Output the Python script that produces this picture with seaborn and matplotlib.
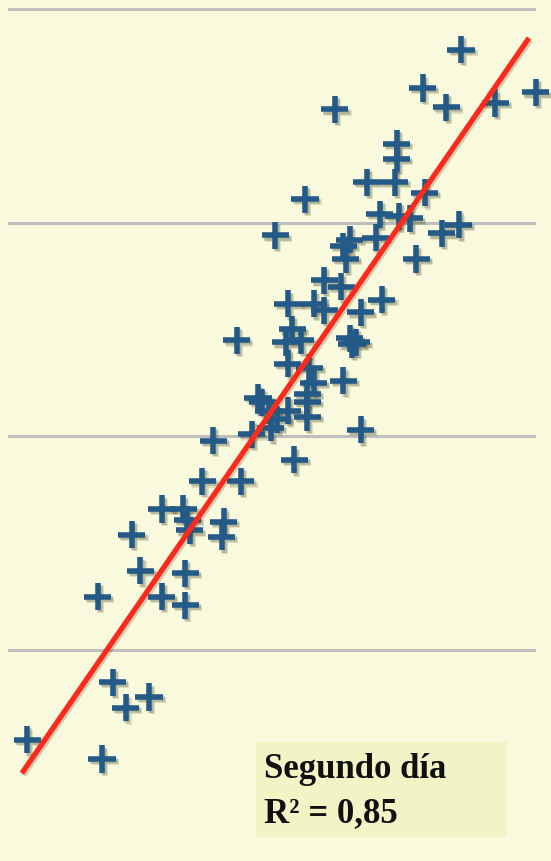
import matplotlib
matplotlib.use("Agg")
import matplotlib.pyplot as plt
import matplotlib.patheffects as pe
from matplotlib.patches import Rectangle
import seaborn as sns
import pandas as pd

# Observations for the second day (arbitrary units)
x_vals = [21.2, 19.4, 20.5, 22.8, 24.7, 15.3, 18.2, 18.2, 16.8, 18.1,
          19.5, 13.9, 17.4, 18.3, 18.8, 12.5, 20.3, 21.1, 17.2, 16.0,
          15.7, 15.8, 19.1, 14.8, 15.6, 13.1, 14.3, 17.5, 14.8, 16.5,
          10.7, 13.3, 13.7, 13.0, 16.0, 16.3, 16.1, 13.1, 14.1, 15.7,
          14.3, 14.0, 11.7, 11.9, 13.1, 14.0, 14.0, 12.6, 12.3, 11.4,
          16.5, 9.6, 13.4, 9.1, 10.9, 7.2, 8.2, 8.4, 8.5, 10.1,
          10.0, 5.8, 6.2, 8.3, 4.2, 7.2, 8.3, 4.9, 5.5, 6.6,
          0.9, 4.4, 12.2]
y_vals = [38.1, 36.3, 35.4, 35.6, 36.1, 35.3, 33.7, 33.0, 31.9, 31.9,
          31.4, 31.1, 30.4, 30.3, 30.2, 29.4, 29.5, 29.9, 29.3, 29.2,
          28.9, 28.3, 28.3, 27.3, 27.0, 26.2, 26.2, 26.4, 25.9, 25.8,
          24.5, 25.0, 24.5, 24.4, 24.6, 24.4, 24.3, 23.4, 23.2, 22.6,
          22.5, 22.0, 21.8, 21.6, 21.2, 21.6, 20.9, 20.8, 20.4, 20.1,
          20.3, 19.8, 18.9, 17.9, 17.9, 16.6, 16.6, 16.1, 15.6, 16.0,
          15.3, 15.4, 13.7, 13.6, 12.5, 12.5, 12.1, 8.5, 7.3, 7.8,
          5.8, 4.9, 21.2]

# Fitted trend line and its coefficient of determination
fit_slope = 1.450
fit_intercept = 3.294
fit_x_range = [0.65, 24.38]
r_squared = "0,85"
title = "Segundo día"
grid_levels = [10, 20, 30, 40]

df = pd.DataFrame({"x": x_vals, "y": y_vals})

bg = "#f9f9dd"
sns.set_theme(style="white")
plt.rcParams["font.family"] = ["Liberation Serif", "DejaVu Serif"]

W, H = 551, 861
fig = plt.figure(figsize=(W / 100, H / 100), dpi=100, facecolor=bg)
ax = fig.add_axes([8 / W, 0, (536 - 8) / W, 1])
ax.set_facecolor(bg)

ax.set_xlim(0, 24.71)
ax.set_ylim(0.126, 40.42)
ax.set_yticks(grid_levels)
ax.set_xticks([])
ax.yaxis.grid(True, color="#bebebe", linewidth=2.2)
ax.tick_params(left=False, labelleft=False, bottom=False, labelbottom=False)
for s in ax.spines.values():
    s.set_visible(False)
ax.set_axisbelow(True)

# Soft drop shadow under each cross
marker_shadow = [pe.SimpleLineShadow(offset=(2.2, -2.4), shadow_color="#6a6a40", alpha=0.22),
                 pe.SimpleLineShadow(offset=(1.4, -1.6), shadow_color="#4a4a30", alpha=0.25),
                 pe.Normal()]

sns.scatterplot(data=df, x="x", y="y", marker="+", s=380, linewidth=4.0,
                color="#245a87", ax=ax, clip_on=False, zorder=3,
                path_effects=marker_shadow)

fx = fit_x_range
fy = [fit_intercept + fit_slope * v for v in fx]
ax.plot(fx, fy, color="#fb2a1c", linewidth=3.8, solid_capstyle="butt", zorder=4,
        clip_on=False,
        path_effects=[pe.SimpleLineShadow(offset=(1.2, -1.5), shadow_color="#4a4a30", alpha=0.25),
                      pe.Normal()])
ax.set_xlabel("")
ax.set_ylabel("")

# Annotation box
fig.patches.append(Rectangle((256 / W, 1 - 837 / H), 251 / W, 95 / H,
                             transform=fig.transFigure, facecolor="#f2f4c6",
                             edgecolor="none", zorder=5))
fig.text(264 / W, 1 - 778 / H, title, fontsize=25, fontweight="bold",
         color="#111111", va="baseline", ha="left", zorder=6)
fig.text(264 / W, 1 - 822 / H, "R² = " + r_squared, fontsize=25, fontweight="bold",
         color="#111111", va="baseline", ha="left", zorder=6)

fig.savefig("out.png", dpi=100, facecolor=bg)
